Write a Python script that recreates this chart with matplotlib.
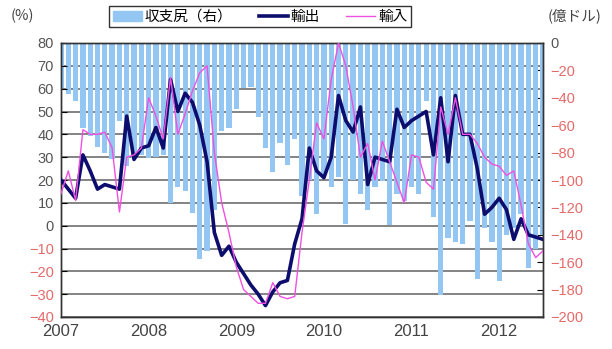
import numpy as np
import matplotlib
matplotlib.use("Agg")
import matplotlib.pyplot as plt
from matplotlib.patches import Patch
from matplotlib.lines import Line2D

# monthly, Jan 2007 - Jul 2012
years = ["2007", "2008", "2009", "2010", "2011", "2012"]

# trade balance (right axis, 億ドル)
balance = [-33, -37, -42, -62, -68, -76, -80, -85, -57, -90,
           -84, -82, -84, -83, -82, -117, -105, -108, -124, -158,
           -152, -122, -64, -62, -48, -33, -32, -54, -77, -94,
           -73, -89, -70, -112, -100, -125, -96, -105, -98, -132,
           -100, -110, -122, -105, -101, -133, -110, -115, -105, -110,
           -42, -127, -184, -142, -145, -147, -130, -172, -135, -145,
           -174, -140, -135, -125, -164, -150, -140]

# exports, y/y % (left axis)
exports = [20, 16, 12, 31, 24, 16, 18, 17, 16, 48,
           29, 34, 35, 43, 34, 64, 50, 58, 54, 44,
           28, -3, -13, -9, -16, -21, -26, -30, -35, -29,
           -25, -24, -8, 3, 34, 24, 21, 30, 57, 46,
           41, 52, 18, 30, 29, 28, 51, 43, 46, 48,
           50, 31, 56, 28, 57, 40, 40, 25, 5, 8,
           12, 7, -6, 3, -4, -5, -6]

# imports, y/y % (left axis)
imports = [14, 24, 11, 42, 40, 40, 41, 34, 6, 30,
           31, 34, 56, 48, 38, 65, 40, 49, 59, 67,
           70, 32, 10, -3, -18, -28, -31, -34, -34, -25,
           -31, -32, -31, -3, 20, 45, 38, 64, 80, 70,
           52, 30, 36, 20, 37, 28, 19, 10, 31, 30,
           19, 16, 52, 40, 56, 40, 40, 36, 30, 27,
           26, 22, 24, 9, -8, -14, -11]

months = np.arange(len(exports))

plt.rcParams["font.family"] = ["Liberation Sans", "Noto Sans CJK JP", "DejaVu Sans"]

fig = plt.figure(figsize=(6.12, 3.49), dpi=100)
ax = fig.add_axes([61 / 612, 32 / 349, 482 / 612, 274 / 349])

# horizontal grid on the % scale, kept behind the bars
for v in range(-40, 81, 10):
    f = (v + 40) / 120
    ax.plot([0, 1], [f, f], transform=ax.transAxes, color="#7a7a7a", lw=1.3, zorder=1)

ax.bar(months, balance, width=0.72, color="#93c6f2", zorder=2)
ax.set_ylim(-200, 0)
ax.set_xlim(0, 66)
ax.set_yticks(np.arange(-200, 1, 20))
ax.set_xticks(np.arange(0, 61, 12), years)

ax2 = ax.twinx()
ax2.plot(months, exports, color="#0d0d6e", lw=2.6, zorder=3)
ax2.plot(months, imports, color="#f050e0", lw=1.0, zorder=4)
ax2.set_ylim(-40, 80)
ax2.set_yticks(np.arange(-40, 81, 10))

# bars own the right-hand scale, the lines the left-hand one
ax.yaxis.tick_right()
ax2.yaxis.tick_left()

ax.tick_params(axis="x", length=0, pad=5, labelsize=12, labelcolor="#444444")
for a in (ax, ax2):
    a.tick_params(axis="y", direction="in", length=4, pad=5, labelsize=10.5)
    for lab, v in zip(a.get_yticklabels(), a.get_yticks()):
        lab.set_color("#555555" if v >= 0 else "#e46a6a")
    for s in a.spines.values():
        s.set_color("#333333")
        s.set_linewidth(1)

handles = [Patch(color="#93c6f2"),
           Line2D([], [], color="#0d0d6e", lw=2.6),
           Line2D([], [], color="#f050e0", lw=1.0)]
labels = ["収支尻（右）", "輸出", "輸入"]
leg = fig.legend(handles, labels, loc="center", bbox_to_anchor=(0.425, 0.952), ncol=3,
                 frameon=True, fancybox=False, edgecolor="black",
                 prop={"family": ["Noto Sans CJK JP"], "size": 10.5},
                 handlelength=2.0, handletextpad=0.2, columnspacing=1.8,
                 borderpad=0.25)
leg.get_frame().set_linewidth(1)

fig.text(0.018, 0.955, "(%)", fontsize=10.5, color="#444444",
         family=["Noto Sans CJK JP"], va="center")
fig.text(0.895, 0.955, "(億ドル)", fontsize=10.5, color="#444444",
         family=["Noto Sans CJK JP"], va="center")

fig.savefig("out.png", dpi=100)
